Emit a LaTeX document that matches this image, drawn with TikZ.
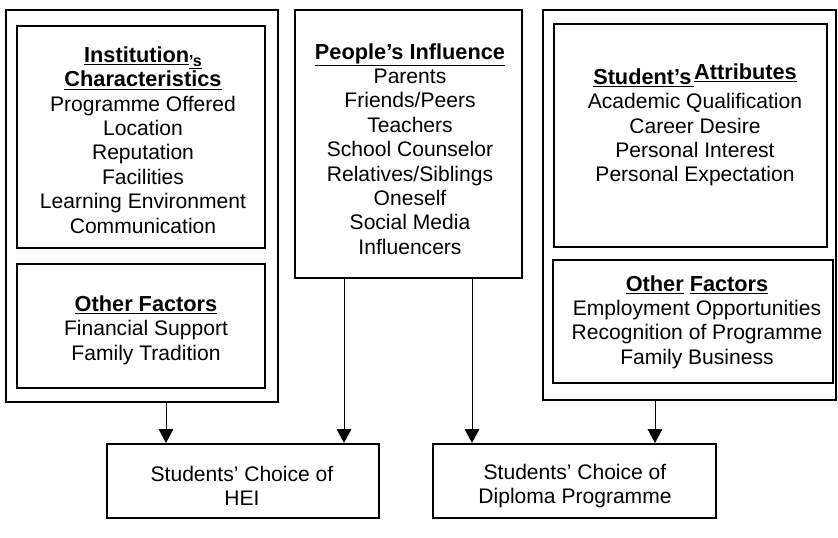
\documentclass[tikz,border=0pt]{standalone}
\usepackage{fontspec}
\setmainfont{Liberation Sans}
\usetikzlibrary{arrows.meta}

\tikzset{every picture/.style={line width=0.75pt}}
\tikzset{
  panel/.style 2 args={draw, line width=1.5pt, inner sep=0pt, minimum width=#1*0.75pt, minimum height=#2*0.75pt},
  boxtext/.style={align=center, inner sep=0.75pt, font=\fontsize{15.8}{18.3}\selectfont},
  flow/.style={-{Triangle[width=11pt,length=10.5pt]}, line width=0.75pt}
}
\newcommand{\headfont}{\fontsize{16.3}{18.3}\selectfont\bfseries}

\begin{document}
\begin{tikzpicture}[x=0.75pt,y=0.75pt,yscale=-1,xscale=1]
\useasboundingbox (0,0) rectangle (838,537);

%Shape: Rectangle [outer left]
\node [panel={272}{392}] (outerL) at (142,206) {};
%Shape: Rectangle [institution]
\node [panel={248}{222}] (instL) at (141,137) {};
%Shape: Rectangle [other left]
\node [panel={248}{124}] (otherL) at (141,326) {};
%Shape: Rectangle [people]
\node [panel={227}{268}] (people) at (408.5,144) {};
%Shape: Rectangle [outer right]
\node [panel={293}{390}] (outerR) at (689.5,205) {};
%Shape: Rectangle [student]
\node [panel={273}{223}] (studR) at (690.5,135.5) {};
%Shape: Rectangle [other right]
\node [panel={280}{123}] (otherR) at (693,321.5) {};
%Shape: Rectangle [choice of HEI]
\node [panel={272}{74}] (hei) at (243,481) {};
%Shape: Rectangle [choice of diploma]
\node [panel={283}{74}] (diploma) at (574.5,481) {};

%Straight Lines [arrows]
\draw [flow] ([xshift=24*0.75pt]outerL.south) -- ([xshift=24*0.75pt]outerL.south |- hei.north);
\draw [flow] ([xshift=-64.5*0.75pt]people.south) -- ([xshift=-64.5*0.75pt]people.south |- hei.north);
\draw [flow] ([xshift=63.5*0.75pt]people.south) -- ([xshift=63.5*0.75pt]people.south |- diploma.north);
\draw [flow] ([xshift=-34.5*0.75pt]outerR.south) -- ([xshift=-34.5*0.75pt]outerR.south |- diploma.north);

% Text Node
\node [boxtext] (instT) at (143,140) {{\headfont\underline{Institution}\raisebox{-3pt}{\fontsize{12}{12}\selectfont\underline{'s}}}\\
  {\headfont\underline{Characteristics}}\\ Programme Offered\\ Location\\ Reputation\\ Facilities\\ Learning Environment\\ Communication};
% Text Node
\node [boxtext] (otherLT) at (146,330) {{\headfont\underline{Other Factors}}\\ Financial Support\\ Family Tradition};
% Text Node
\node [boxtext] (peopleT) at (410,149) {{\headfont\underline{People's Influence}}\\ Parents\\ Friends/Peers\\ Teachers\\ School Counselor\\ Relatives/Siblings\\ Oneself\\ Social Media\\ Influencers};
% Text Node
\node [boxtext] (studT) at (695,125) {{\headfont\underline{Student's\kern2pt}\raisebox{3.5pt}{\underline{Attributes}}}\\ Academic Qualification\\ Career Desire\\ Personal Interest\\ Personal Expectation};
% Text Node
\node [boxtext] (otherRT) at (697,322) {{\headfont\underline{Other} \underline{Factors}}\\ Employment Opportunities\\ Recognition of Programme\\ Family Business};
% Text Node
\node [boxtext] (heiT) at (242,486) {Students' Choice of\\ HEI};
% Text Node
\node [boxtext] (diplomaT) at (575,486) {Students' Choice of\\ Diploma Programme};

\end{tikzpicture}
\end{document}
